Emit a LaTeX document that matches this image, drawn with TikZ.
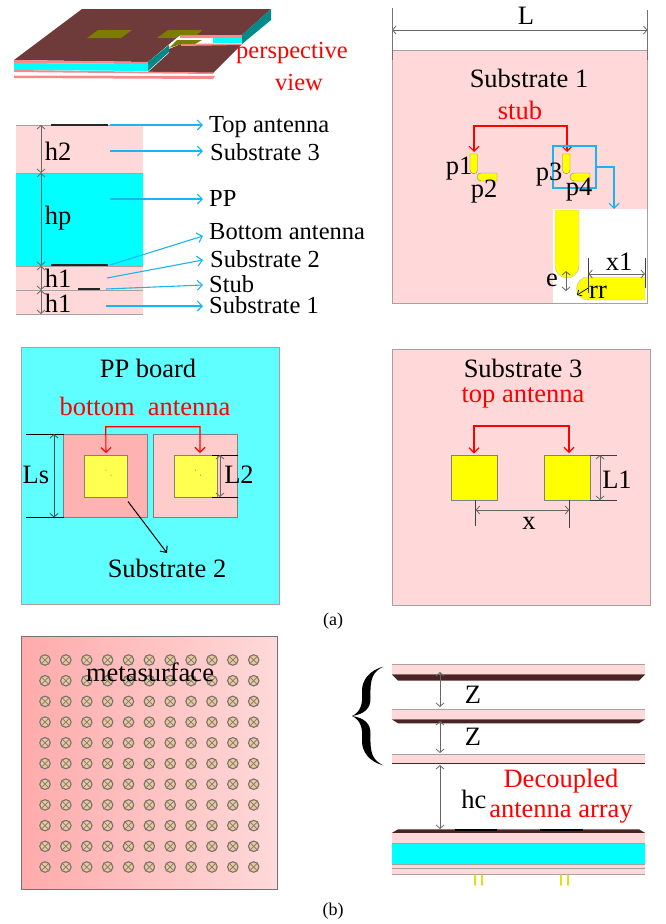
\documentclass[tikz,border=0pt]{standalone}
\usepackage{fontspec}
\usetikzlibrary{arrows.meta}
\setmainfont{Liberation Serif}
\definecolor{subpink}{HTML}{FFD9D9}
\definecolor{ppcyan}{HTML}{00FFFF}
\definecolor{boardcyan}{HTML}{60FFFF}
\definecolor{metalbrown}{HTML}{6E3A3A}
\definecolor{darkbrown}{HTML}{4A2424}
\definecolor{edgegrey}{HTML}{A8A0A0}
\definecolor{skyarrow}{HTML}{19B5F1}
\definecolor{patcholive}{HTML}{7C7C00}
\definecolor{teal2}{HTML}{008A8A}
\definecolor{salmon2}{HTML}{F58A8A}
\definecolor{patchyellow}{HTML}{FFFF00}
\definecolor{softyellow}{HTML}{FFFF50}
\definecolor{postyellow}{HTML}{E0E020}
\definecolor{cellfill}{HTML}{E8C8A8}
\definecolor{cellcross}{HTML}{8A7A50}
\tikzset{
  txt/.style={font=\fontsize{26.5}{28}\selectfont, inner sep=0pt},
  reftxt/.style={txt, text=red},
  layertxt/.style={font=\fontsize{24.5}{26}\selectfont, inner sep=0pt},
  panel/.style={draw=edgegrey, line width=1pt},
  patchbox/.style={draw=gray, fill=patchyellow, inner sep=0pt, outer sep=1.5pt},
  redarrow/.style={red, line width=1.1pt, {Straight Barb[length=5pt,width=10pt]}-{Straight Barb[length=5pt,width=10pt]}},
  bluearrow/.style={skyarrow, line width=1.1pt, -{Straight Barb[length=5pt,width=10pt]}},
  dimarrow/.style={black!60, line width=0.8pt, {Straight Barb[length=3.5pt,width=8pt]}-{Straight Barb[length=3.5pt,width=8pt]}},
  dimline/.style={black!75, line width=0.7pt},
  unitcell/.style={circle, draw=black!55, line width=1.1pt, fill=cellfill, minimum size=10.5pt, inner sep=0pt}
}
\begin{document}
\begin{tikzpicture}[x=1pt, y=-1pt]
  \useasboundingbox (0,0) rectangle (665,924);

  % perspective view
  \fill [metalbrown] (14,60) -- (82,9) -- (271,9) -- (242,35) -- (180,35) -- (148,62) -- cycle;
  \fill [teal2] (242,35) -- (271,9) -- (271,20) -- (242,44) -- cycle;
  \fill [teal2] (148,62) -- (169,45) -- (169,52) -- (148,71) -- cycle;
  \fill [metalbrown] (148,72) -- (169,53) -- (169,49) -- (181,44) -- (242,44) -- (213,73) -- cycle;
  \fill [salmon2] (180,35) -- (242,35) -- (242,38) -- (180,38) -- cycle;
  \fill [ppcyan] (213,38) rectangle (242,43);
  \fill [salmon2] (181,43.5) -- (242,43.5) -- (242,45) -- (181,46) -- cycle;
  \fill [patcholive] (87,38) -- (98,30) -- (132,30) -- (121,38) -- cycle;
  \fill [patcholive] (157,38) -- (168,30) -- (202,30) -- (197,35) -- (180,35) -- (176,38) -- cycle;
  \fill [patcholive] (169,48) -- (177,40) -- (202,40) -- (195,44) -- (181,44) -- cycle;
  \fill [salmon2] (14,60) -- (148,62) -- (148,64) -- (14,63) -- cycle;
  \fill [ppcyan] (14,63) -- (148,64) -- (148,71) -- (14,70) -- cycle;
  \fill [salmon2] (14,70) -- (213,72.5) -- (213,74) -- (14,72) -- cycle;
  \fill [salmon2] (14,75.5) -- (215,76) -- (213,79) -- (14,78) -- cycle;
  \node [layertxt, text=red] (perspective) at (292,53) {perspective};
  \node [layertxt, text=red] (viewlabel) at (299,83) {view};

  % layers
  \fill [subpink] (16,125) rectangle (143,173);
  \fill [ppcyan] (16,173) rectangle (143,266);
  \fill [subpink] (16,266) rectangle (143,314);
  \draw [edgegrey] (16,125) -- (143,125);
  \draw [edgegrey] (16,173) -- (143,173);
  \draw [edgegrey] (16,266) -- (143,266);
  \draw [edgegrey] (16,290) -- (143,290);
  \draw [edgegrey] (16,314) -- (143,314);
  \draw [black!85, line width=1.3pt] (51,125) -- (108,125);
  \draw [black!85, line width=1.3pt] (51,265) -- (108,265);
  \draw [black!85, line width=1.3pt] (78,289) -- (100,289);
  \coordinate (h0) at (41,125);
  \coordinate (h2end) at (41,173);
  \coordinate (hpend) at (41,266);
  \coordinate (h1mid) at (41,290);
  \coordinate (h1end) at (41,314);
  \draw [dimarrow] (h0) -- (h2end);
  \draw [dimarrow] (h2end) -- (hpend);
  \draw [dimarrow] (hpend) -- (h1mid);
  \draw [dimarrow] (h1mid) -- (h1end);
  \node [txt] (htwo) at (58,151) {h2};
  \node [txt] (hp) at (58,218) {hp};
  \node [txt] (honea) at (58,278) {h1};
  \node [txt] (honeb) at (58,303) {h1};
  \node [layertxt, anchor=west] (toplabel) at (209,127) {Top antenna};
  \node [layertxt, anchor=west] (subthree) at (210,152) {Substrate 3};
  \node [layertxt, anchor=west] (pplabel) at (209,198) {PP};
  \node [layertxt, anchor=west] (botlabel) at (209,232) {Bottom antenna};
  \node [layertxt, anchor=west] (subtwo) at (210,259) {Substrate 2};
  \node [layertxt, anchor=west] (stublabel) at (209,284) {Stub};
  \node [layertxt, anchor=west] (subone) at (209,305) {Substrate 1};
  \coordinate (topstart) at (110,125);
  \coordinate (topend) at (203,125);
  \coordinate (s3start) at (110,151);
  \coordinate (s3end) at (203,151);
  \coordinate (ppstart) at (110,199);
  \coordinate (ppend) at (203,199);
  \coordinate (botstart) at (110,265);
  \coordinate (botend) at (203,236);
  \coordinate (s2start) at (107,278);
  \coordinate (s2end) at (203,260);
  \coordinate (stubstart) at (106,289);
  \coordinate (stubend) at (203,285);
  \coordinate (s1start) at (106,306);
  \coordinate (s1end) at (203,306);
  \draw [bluearrow] (topstart) -- (topend);
  \draw [bluearrow] (s3start) -- (s3end);
  \draw [bluearrow] (ppstart) -- (ppend);
  \draw [bluearrow] (botstart) -- (botend);
  \draw [bluearrow] (s2start) -- (s2end);
  \draw [bluearrow] (stubstart) -- (stubend);
  \draw [bluearrow] (s1start) -- (s1end);

  % substrate 1
  \filldraw [panel, fill=subpink] (392,50.5) rectangle (647.5,303);
  \coordinate (lleft) at (392,30);
  \coordinate (lright) at (647.5,30);
  \draw [dimarrow] (lleft) -- (lright);
  \draw [black!55, line width=1pt] (392,8) -- (392,60);
  \draw [black!55, line width=1pt] (647.5,10) -- (647.5,60);
  \node [txt] (llabel) at (526,16) {L};
  \node [txt] (subonetitle) at (529,78) {Substrate 1};
  \node [reftxt] (stubtitle) at (520,110) {stub};
  \filldraw [fill=patchyellow, draw=gray] (470,154) -- (477.5,154) -- (477.5,170) arc (0:180:3.75) -- cycle;
  \filldraw [fill=patchyellow, draw=gray] (497,173) -- (497,181) -- (481,181) arc (90:270:4) -- cycle;
  \filldraw [fill=patchyellow, draw=gray] (562.5,154) -- (570,154) -- (570,170) arc (0:180:3.75) -- cycle;
  \filldraw [fill=patchyellow, draw=gray] (590,173) -- (590,181) -- (574,181) arc (90:270:4) -- cycle;
  \coordinate (stubleft) at (474,152);
  \coordinate (stubright) at (567,152);
  \coordinate (stubtopl) at (474,126);
  \coordinate (stubtopr) at (567,126);
  \draw [redarrow] (stubleft) -- (stubtopl) -- (stubtopr) -- (stubright);
  \draw [skyarrow, line width=1.2pt] (553,146) rectangle (596,188);
  \coordinate (zoomstart) at (596,167);
  \coordinate (zoombend) at (614,167);
  \coordinate (zoomend) at (614,209);
  \draw [bluearrow] (zoomstart) -- (zoombend) -- (zoomend);
  \fill [white] (552.5,209) rectangle (647,302.5);
  \filldraw [fill=patchyellow, draw=black!25] (555,210) -- (579,210) -- (579,266) arc (0:180:12) -- cycle;
  \filldraw [fill=patchyellow, draw=black!25] (645,277) -- (645,300) -- (588,300) arc (90:270:11.5) -- cycle;
  \node [txt] (pone) at (459,169) {p1};
  \node [txt] (ptwo) at (484,192) {p2};
  \node [txt] (pthree) at (549,175) {p3};
  \node [txt] (pfour) at (579,190) {p4};
  \draw [dimline] (588.3,258) -- (588.3,293);
  \draw [dimline] (645,258) -- (645,288);
  \coordinate (xoneleft) at (588.3,274);
  \coordinate (xoneright) at (645,274);
  \draw [dimarrow] (xoneleft) -- (xoneright);
  \node [txt] (xone) at (619,262) {x1};
  \coordinate (etop) at (566,271);
  \coordinate (ebot) at (566,291);
  \draw [dimarrow] (etop) -- (ebot);
  \node [txt] (elabel) at (552,280) {e};
  \coordinate (rrstart) at (588.3,288);
  \coordinate (rrend) at (577,295);
  \draw [black, line width=0.7pt, -{Straight Barb[length=3.5pt,width=7pt]}] (rrstart) -- (rrend);
  \node [txt] (rrlabel) at (598,292) {rr};

  % PP board
  \filldraw [panel, fill=boardcyan] (21,347) rectangle (279,604);
  \node [txt] (pptitle) at (148,368) {PP board};
  \node [reftxt] (bottitle) at (145,406) {bottom\ \ antenna};
  \filldraw [draw=gray, fill=red!30] (63.5,434) rectangle (147.5,517.5);
  \filldraw [draw=gray, fill=red!20] (153.5,434) rectangle (237.5,517.5);
  \node [patchbox, fill=softyellow, minimum width=43pt, minimum height=42pt] (botleft) at (106,475.7) {};
  \node [patchbox, fill=softyellow, minimum width=43pt, minimum height=42pt] (botright) at (195.5,475.7) {};
  \fill [black!60] (106,470) circle (0.5pt) (111,475) circle (0.5pt) (195.5,470) circle (0.5pt) (200.5,475) circle (0.5pt);
  \coordinate (botupl) at (105.7,426.7);
  \coordinate (botupr) at (200,426.7);
  \coordinate (botendr) at (200,453);
  \draw [redarrow] (botleft.north) -- (botupl) -- (botupr) -- (botendr);
  \draw [black, line width=0.7pt] (26,434) -- (63.5,434);
  \draw [black, line width=0.7pt] (26,517.5) -- (63.5,517.5);
  \coordinate (lstop) at (54,434);
  \coordinate (lsbot) at (54,517.5);
  \draw [dimarrow, black!70] (lstop) -- (lsbot);
  \node [txt] (lslabel) at (36,475) {Ls};
  \draw [black, line width=0.7pt] (212,455) -- (237.5,455);
  \draw [black, line width=0.7pt] (212,497) -- (237.5,497);
  \coordinate (ltwotop) at (220,455);
  \coordinate (ltwobot) at (220,497);
  \draw [dimarrow] (ltwotop) -- (ltwobot);
  \node [txt] (ltwolabel) at (239,475) {L2};
  \node [txt] (subtwotitle) at (167,568) {Substrate 2};
  \coordinate (subtwostart) at (128,501.5);
  \coordinate (subtwoend) at (167,553);
  \draw [black, line width=1pt, -{Straight Barb[length=5pt,width=9pt]}] (subtwostart) -- (subtwoend);

  % substrate 3
  \filldraw [panel, fill=subpink] (392,349.5) rectangle (650,605);
  \node [txt] (subthreetitle) at (523,368) {Substrate 3};
  \node [reftxt] (toptitle) at (523,398) {top antenna};
  \node [patchbox, minimum width=46pt, minimum height=45pt] (topleft) at (474,477.5) {};
  \node [patchbox, minimum width=46pt, minimum height=45pt] (topright) at (567.5,477.5) {};
  \coordinate (topupl) at (474,426);
  \coordinate (topupr) at (569,426);
  \coordinate (topendr) at (569,453);
  \draw [redarrow] (topleft.north) -- (topupl) -- (topupr) -- (topendr);
  \draw [dimline] (590,455) -- (617,455);
  \draw [dimline] (590,500) -- (617,500);
  \coordinate (lonetop) at (600,455);
  \coordinate (lonebot) at (600,500);
  \draw [dimarrow] (lonetop) -- (lonebot);
  \node [txt] (lonelabel) at (617,480) {L1};
  \draw [dimline] (475.7,500) -- (475.7,526);
  \draw [dimline] (569.3,500) -- (569.3,528);
  \coordinate (xleft) at (475.7,510);
  \coordinate (xright) at (569.3,510);
  \draw [dimarrow] (xleft) -- (xright);
  \node [txt] (xlabel) at (529,523) {x};

  \node [txt, font=\fontsize{18}{20}\selectfont] (alabel) at (333,621) {(a)};

  % metasurface
  \shade [left color=red!33, right color=red!15] (21.7,636) rectangle (277,889);
  \draw [panel, black!55] (21.7,636) rectangle (277,889);
  \foreach \i in {0,...,10}
    \foreach \j in {0,...,10} {
      \node [unitcell] (cell\i\j) at (45+20.87*\i,660+20.7*\j) {};
      \draw [cellcross, line width=0.7pt] (cell\i\j.north west) -- (cell\i\j.south east);
      \draw [cellcross, line width=0.7pt] (cell\i\j.north east) -- (cell\i\j.south west);
    }
  \node [txt] (metalabel) at (150,672) {metasurface};

  % side view
  \fill [subpink] (391.7,664) rectangle (645.3,674.3);
  \fill [darkbrown] (391.7,674.3) -- (645.3,674.3) -- (639,680.7) -- (398,680.7) -- cycle;
  \fill [subpink] (391.7,709.3) rectangle (645.3,719.3);
  \fill [darkbrown] (391.7,719.3) -- (645.3,719.3) -- (639,723.3) -- (398,723.3) -- cycle;
  \fill [subpink] (391.7,753.7) rectangle (645.3,763.3);
  \fill [darkbrown] (391.7,763.3) rectangle (645.3,764);
  \fill [darkbrown] (398,829.3) -- (639,829.3) -- (645.3,833) -- (391.7,833) -- cycle;
  \fill [subpink] (391.7,833) rectangle (645.3,843);
  \fill [ppcyan] (391.7,843) rectangle (645.3,863.7);
  \fill [subpink] (391.7,863.7) rectangle (645.3,874.3);
  \draw [edgegrey] (391.7,664) -- (645.3,664);
  \draw [edgegrey] (391.7,709.3) -- (645.3,709.3);
  \draw [edgegrey] (391.7,753.7) -- (645.3,753.7);
  \draw [edgegrey] (391.7,843) -- (645.3,843);
  \draw [edgegrey] (391.7,863.7) -- (645.3,863.7);
  \draw [edgegrey] (391.7,868.3) -- (645.3,868.3);
  \draw [edgegrey] (391.7,874.3) -- (645.3,874.3);
  \draw [black, line width=1.3pt] (455,830) -- (496.7,830);
  \draw [black, line width=1.3pt] (540,830) -- (582.7,830);
  \fill [postyellow] (474,874.5) rectangle (476,885.7) (481,874.5) rectangle (483,885.7);
  \fill [postyellow] (560,874.5) rectangle (562,885.7) (567,874.5) rectangle (569,885.7);
  \coordinate (zatop) at (440,672);
  \coordinate (zabot) at (440,707);
  \coordinate (zbtop) at (440,721);
  \coordinate (zbbot) at (440,753);
  \coordinate (hctop) at (440,765);
  \coordinate (hcbot) at (440,829);
  \draw [dimarrow] (zatop) -- (zabot);
  \draw [dimarrow] (zbtop) -- (zbbot);
  \draw [dimarrow] (hctop) -- (hcbot);
  \node [txt] (zone) at (473,695) {Z};
  \node [txt] (ztwo) at (473,737) {Z};
  \node [txt] (hclabel) at (474,799) {hc};
  \node [reftxt] (decoupled) at (561,781) {Decoupled};
  \node [reftxt] (arraylabel) at (561,813) {antenna array};
  % brace
  \foreach \s in {1,-1}
    \fill [black, shift={(352,716)}, yscale=\s] (31.3,-49.3) .. controls (18,-46) and (9,-36) .. (10,-23)
      .. controls (11,-11) and (8,-4) .. (0,0) .. controls (12,-2) and (19,-7) .. (18.5,-19)
      .. controls (18,-36) and (20,-44) .. (31.3,-49.3) -- cycle;

  \node [txt, font=\fontsize{18}{20}\selectfont] (blabel) at (333,911) {(b)};
\end{tikzpicture}
\end{document}
